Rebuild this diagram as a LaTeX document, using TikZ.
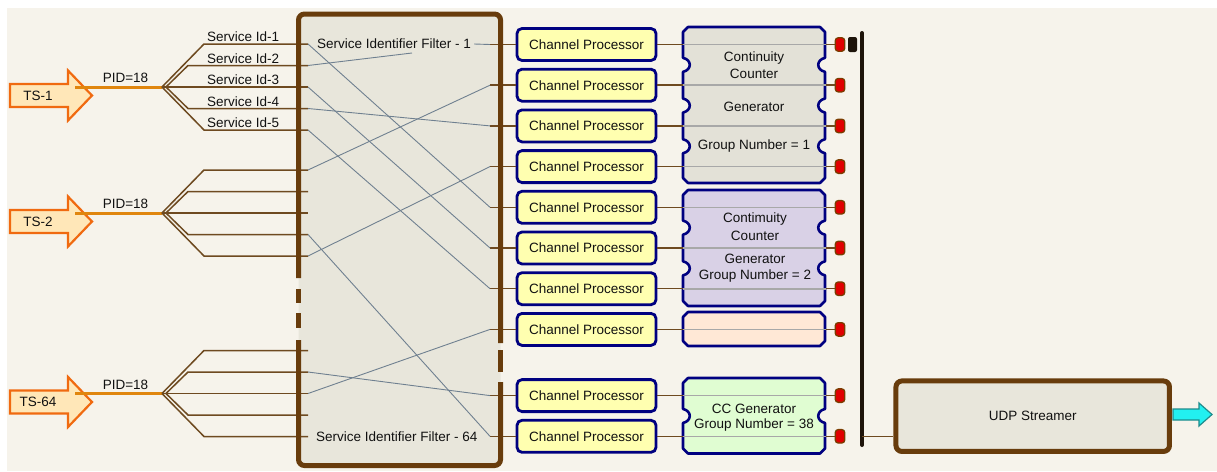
\documentclass[tikz,border=0pt]{standalone}
\usepackage{fontspec}
\setmainfont{Liberation Sans}
\definecolor{bg}{HTML}{F6F3EB}
\definecolor{filterfill}{HTML}{E8E6DB}
\definecolor{filterbrd}{HTML}{683C0C}
\definecolor{brnline}{HTML}{6E4A20}
\definecolor{slate}{HTML}{6F8090}
\definecolor{navy}{HTML}{000080}
\definecolor{cpfill}{HTML}{FFFFB0}
\definecolor{ccone}{HTML}{E3E1D7}
\definecolor{cctwo}{HTML}{D9D1E6}
\definecolor{ccthree}{HTML}{FFE8D6}
\definecolor{ccfour}{HTML}{E0FDD2}
\definecolor{grayline}{HTML}{A8A8A8}
\definecolor{dotred}{HTML}{E00000}
\definecolor{dotbrd}{HTML}{7A3C00}
\definecolor{busc}{HTML}{1E140A}
\definecolor{tsbrd}{HTML}{F06A10}
\definecolor{tsfill}{HTML}{FFE7B8}
\definecolor{orangeline}{HTML}{E0860E}
\definecolor{cyanfill}{HTML}{22F0F0}
\definecolor{cyanbrd}{HTML}{1E8C8C}
\definecolor{txt}{HTML}{111111}
\newcommand{\ccshape}[7]{%
  \filldraw[ccbox, fill=#7] (#1+5,#3) -- (#2-5,#3) -- (#2,#3+5)
    foreach \n in {#5} { -- (#2,\n-7) .. controls (#2-9,\n-5) and (#2-9,\n+5) .. (#2,\n+7) }
    -- (#2,#4-5) -- (#2-5,#4) -- (#1+5,#4) -- (#1,#4-5)
    foreach \n in {#6} { -- (#1,\n+7) .. controls (#1+9,\n+5) and (#1+9,\n-5) .. (#1,\n-7) }
    -- (#1,#3+5) -- cycle;}
\begin{document}
\begin{tikzpicture}[x=1pt,y=-1pt,
  every node/.style={font=\fontsize{13.5}{15}\selectfont, text=txt},
  brn/.style={draw=brnline, line width=1.5pt},
  xline/.style={draw=slate, line width=0.9pt},
  gline/.style={draw=grayline, line width=1.6pt},
  fbord/.style={draw=filterbrd, line width=5pt, rounded corners=6pt},
  cp/.style={rectangle, rounded corners=5pt, draw=navy, line width=2.8pt, fill=cpfill, minimum width=139pt, minimum height=32pt, inner sep=0pt},
  ccbox/.style={draw=navy, line width=2.6pt, line join=round},
  reddot/.style={rectangle, rounded corners=3pt, draw=dotbrd, line width=1.3pt, fill=dotred, minimum width=9.5pt, minimum height=13.5pt, inner sep=0pt},
  capbox/.style={rectangle, rounded corners=2pt, fill=busc, minimum width=9pt, minimum height=15pt, inner sep=0pt},
  tsarrow/.style={draw=tsbrd, line width=2.2pt, fill=tsfill, line join=miter},
  lbl/.style={inner sep=0pt}
]
\useasboundingbox (0,0) rectangle (1217,471);
\fill[white] (0,0) rectangle (1217,471);
\fill[bg] (7,8) rectangle (1217,471);

% filter box fill
\fill[filterfill, rounded corners=6pt] (298.5,14) rectangle (500.5,465.5);

% TS inputs and fans
\foreach \g/\yc/\lab in {1/87/TS-1, 2/213/TS-2, 3/393.5/TS-64} {
  \pgfmathsetmacro{\c}{\yc+8.5}
  \filldraw[tsarrow] (10,\c-11.5) -- (68,\c-11.5) -- (68,\c-25) -- (92,\c) -- (68,\c+25) -- (68,\c+11.5) -- (10,\c+11.5) -- cycle;
  \node[lbl] (ts\g) at (38,\c) {\lab};
  \coordinate (fan\g) at (162,\yc);
  \coordinate (tsout\g) at (75,\yc);
  \draw[draw=orangeline, line width=3pt] (tsout\g) -- (fan\g);
  \node[lbl, anchor=base] (pid\g) at (125.5,\yc-4.5) {PID=18};
  \coordinate (L\g-1) at (308,\yc-43);
  \coordinate (L\g-2) at (308,\yc-21.5);
  \coordinate (L\g-3) at (308,\yc);
  \coordinate (L\g-4) at (308,\yc+21.5);
  \coordinate (L\g-5) at (308,\yc+43);
  \coordinate (B\g-1) at (204,\yc-43);
  \coordinate (B\g-2) at (188,\yc-21.5);
  \coordinate (B\g-4) at (188,\yc+21.5);
  \coordinate (B\g-5) at (204,\yc+43);
  \coordinate (fanin\g) at (166,\yc);
  \draw[brn] (fan\g) -- (B\g-1) -- (L\g-1);
  \draw[brn] (fanin\g) -- (B\g-2) -- (L\g-2);
  \draw[brn] (fan\g) -- (L\g-3);
  \draw[brn] (fanin\g) -- (B\g-4) -- (L\g-4);
  \draw[brn] (fan\g) -- (B\g-5) -- (L\g-5);
}
\foreach \i/\yy in {1/44,2/65.5,3/87,4/108.5,5/130} {
  \node[lbl, anchor=base west] (sid\i) at (207,\yy-2.5) {Service Id-\i};
}

% filter labels
\node[inner sep=3pt] (fl1) at (394,44) {Service Identifier Filter - 1};
\coordinate (fl1in) at (412,53);
\node[inner sep=3pt, anchor=west] (fl64) at (313,437) {Service Identifier Filter - 64};

% CC boxes
\ccshape{683}{825}{27}{183}{64.85,105.55,146.25}{146.25,105.55,64.85}{ccone}
\ccshape{683}{825}{190}{306}{227.65,268.35}{268.35,227.65}{cctwo}
\filldraw[ccbox, fill=ccthree] (688,312) -- (820,312) -- (825,317) -- (825,341) -- (820,346) -- (688,346) -- (683,341) -- (683,317) -- cycle;
\ccshape{683}{825}{378}{453.5}{415.95}{415.95}{ccfour}

% rows
\foreach \k/\y in {1/44.5,2/85.2,3/125.9,4/166.6,5/207.3,6/248,7/288.7,8/329.4,9/395.6,10/436.3} {
  \coordinate (R\k) at (490,\y);
  \node[cp] (cp\k) at (586.5,\y) {Channel Processor};
  \coordinate (ccl\k) at (683,\y);
  \coordinate (ccr\k) at (826,\y);
  \node[reddot] (dot\k) at (840,\y) {};
  \draw[brn] (R\k) -- (cp\k.west);
  \draw[brn] (cp\k.east) -- (ccl\k);
  \draw[gline] (ccl\k) -- (ccr\k);
  \draw[brn] (ccr\k) -- (dot\k.west);
}
\node[capbox] (cap1) at (852.5,44.5) {};

% crossing lines inside the filter
\draw[xline] (L1-1) -- (R5);
\draw[xline] (L1-2) -- (fl1in);
\draw[xline] (fl1.east) -- (R1);
\draw[xline] (L1-3) -- (R6);
\draw[xline] (L1-4) -- (R3);
\draw[xline] (L1-5) -- (R7);
\draw[xline] (L2-1) -- (R2);
\draw[xline] (L2-5) -- (R4);
\draw[xline] (L2-4) -- (R10);
\draw[xline] (L3-2) -- (R9);
\draw[xline] (L3-3) -- (R8);

% filter border with gaps
\draw[fbord] (298.5,278) -- (298.5,14) -- (500.5,14) -- (500.5,343);
\draw[fbord] (298.5,289) -- (298.5,303);
\draw[fbord] (298.5,313) -- (298.5,328);
\draw[fbord] (500.5,350) -- (500.5,372);
\draw[fbord] (298.5,340) -- (298.5,465.5) -- (500.5,465.5) -- (500.5,382);

% CC box texts
\node[lbl] (c1a) at (754,58.5) {Continuity};
\node[lbl] (c1b) at (754,74) {Counter};
\node[lbl] (c1c) at (754,106.5) {Generator};
\node[lbl] (c1d) at (754,146.5) {Group Number = 1};
\node[lbl] (c2a) at (755,219) {Contimuity};
\node[lbl] (c2b) at (755,236) {Counter};
\node[lbl] (c2c) at (755,259) {Generator};
\node[lbl] (c2d) at (755,276) {Group Number = 2};
\node[lbl] (c4a) at (754,409) {CC Generator};
\node[lbl] (c4b) at (754,425) {Group Number = 38};

% bus and UDP streamer
\coordinate (bustop) at (862,33);
\coordinate (busbot) at (862,445);
\draw[draw=busc, line width=4pt, line cap=round] (bustop) -- (busbot);
\node[rectangle, rounded corners=6pt, draw=filterbrd, line width=5pt, fill=filterfill, minimum width=273.5pt, minimum height=70.5pt] (udp) at (1032.7,416.2) {UDP Streamer};
\coordinate (busout) at (862,436.3);
\draw[brn] (busout) -- (udp.west |- busout);
\filldraw[draw=cyanbrd, fill=cyanfill, line width=1.2pt] (1173,409) -- (1199,409) -- (1199,403) -- (1212,414.5) -- (1199,426) -- (1199,420) -- (1173,420) -- cycle;
\end{tikzpicture}
\end{document}
